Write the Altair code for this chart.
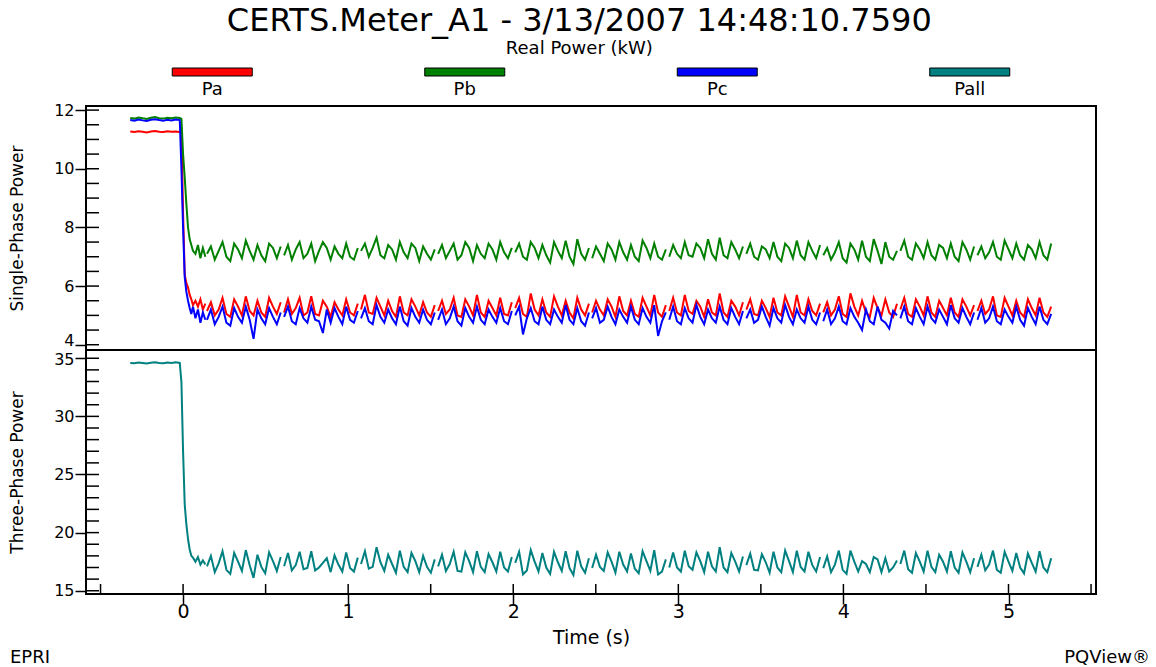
import altair as alt
import pandas as pd

FONT = "DejaVu Sans"

series_names = ["Pa", "Pb", "Pc", "Pall"]
series_colors = ["#ff0000", "#008000", "#0000ff", "#008080"]

# first block (pre-step and drop), times in s
t_step = [-0.32, -0.295, -0.27, -0.245, -0.22, -0.195, -0.17, -0.145, -0.12, -0.095, -0.07, -0.045, -0.02,
          -0.01, 0.0, 0.01, 0.02, 0.03, 0.04, 0.05, 0.06, 0.075, 0.09, 0.105, 0.12, 0.135]
# later data blocks (each block = 20 samples, small gap between blocks)
block_starts = [0.145, 0.612, 1.078, 1.545, 2.012, 2.478, 2.945, 3.412, 3.878, 4.345, 4.812]
sample_step = 0.0235

pa_step = [11.27, 11.25, 11.28, 11.26, 11.24, 11.27, 11.29, 11.26, 11.25, 11.28, 11.26, 11.27, 11.25,
           11.25, 8.5, 6.4, 6.1, 5.95, 5.7, 5.55, 5.35, 5.5, 5.3, 5.55, 5.2, 5.4]
pb_step = [11.73, 11.71, 11.75, 11.72, 11.70, 11.74, 11.76, 11.72, 11.71, 11.74, 11.72, 11.75, 11.73,
           11.7, 10.5, 9.7, 8.8, 8.0, 7.6, 7.4, 7.2, 7.1, 7.4, 6.95, 7.3, 7.0]
pc_step = [11.66, 11.64, 11.68, 11.65, 11.63, 11.67, 11.69, 11.66, 11.64, 11.67, 11.65, 11.68, 11.66,
           10.0, 8.0, 6.3, 5.8, 5.5, 5.25, 5.05, 5.3, 4.9, 5.2, 4.75, 5.1, 4.85]
pall_step = [34.6, 34.58, 34.63, 34.6, 34.55, 34.62, 34.66, 34.6, 34.57, 34.63, 34.6, 34.65, 34.6,
             32.95, 27.0, 22.4, 20.7, 19.45, 18.55, 18.0, 17.85, 17.5, 17.9, 17.25, 17.6, 17.25]

pb_blocks = [
    [7.1, 7.35, 6.9, 7.2, 7.5, 7.0, 6.85, 7.45, 7.25, 6.95, 7.55, 7.2, 6.9, 7.4, 7.05, 6.85, 7.45, 7.3, 6.95, 7.35],
    [7.05, 7.4, 6.9, 7.25, 7.5, 6.95, 7.1, 7.45, 6.85, 7.2, 7.5, 7.3, 6.9, 7.35, 7.1, 6.95, 7.45, 7.0, 6.9, 7.3],
    [7.2, 7.45, 7.0, 7.3, 7.65, 7.05, 6.95, 7.4, 7.25, 6.9, 7.5, 7.15, 6.95, 7.45, 7.3, 6.85, 7.35, 7.1, 6.9, 7.25],
    [7.1, 7.4, 6.95, 7.2, 7.45, 6.9, 7.05, 7.5, 7.3, 6.85, 7.4, 7.1, 6.95, 7.45, 7.25, 6.9, 7.5, 7.15, 6.95, 7.3],
    [7.15, 7.45, 7.0, 6.9, 7.5, 7.3, 6.95, 7.4, 7.05, 6.8, 7.5, 7.2, 6.95, 7.55, 7.0, 6.75, 7.6, 7.1, 6.9, 7.3],
    [6.95, 7.35, 7.1, 6.85, 7.45, 7.25, 6.9, 7.5, 7.15, 6.9, 7.4, 7.0, 6.85, 7.55, 7.3, 6.95, 7.45, 7.0, 6.9, 7.25],
    [7.0, 7.4, 7.1, 6.95, 7.5, 7.05, 7.0, 7.45, 7.3, 6.95, 7.6, 7.1, 6.9, 7.65, 7.05, 6.95, 7.5, 7.25, 6.95, 7.35],
    [7.1, 7.45, 7.0, 6.9, 7.35, 7.25, 6.95, 7.5, 7.0, 6.85, 7.45, 7.3, 6.95, 7.55, 7.05, 6.9, 7.5, 7.2, 6.95, 7.4],
    [7.05, 7.3, 6.9, 7.15, 7.5, 6.95, 6.8, 7.45, 7.25, 6.9, 7.55, 7.0, 6.85, 7.6, 7.2, 6.75, 7.5, 7.0, 6.9, 7.2],
    [7.2, 7.55, 7.0, 6.9, 7.45, 7.25, 6.95, 7.5, 7.05, 6.9, 7.4, 7.3, 6.95, 7.45, 7.0, 6.85, 7.5, 7.25, 6.9, 7.35],
    [7.05, 7.35, 6.95, 7.15, 7.5, 7.0, 6.9, 7.55, 7.25, 6.95, 7.45, 7.05, 6.9, 7.4, 7.25, 6.95, 7.5, 7.05, 6.9, 7.45],
]
pa_blocks = [
    [5.15, 5.45, 5.0, 5.2, 5.6, 5.05, 4.95, 5.55, 5.3, 5.0, 5.65, 5.15, 5.0, 5.5, 5.1, 4.95, 5.6, 5.3, 5.05, 5.45],
    [5.1, 5.55, 5.05, 5.25, 5.6, 5.0, 5.1, 5.65, 5.05, 5.0, 5.5, 5.3, 4.95, 5.45, 5.2, 5.0, 5.55, 5.1, 5.0, 5.4],
    [5.2, 5.7, 5.1, 5.05, 5.6, 5.3, 5.0, 5.5, 5.15, 4.95, 5.65, 5.1, 5.0, 5.55, 5.3, 5.0, 5.45, 5.1, 4.95, 5.35],
    [5.15, 5.5, 5.05, 5.2, 5.6, 5.0, 4.95, 5.55, 5.3, 5.0, 5.7, 5.1, 4.95, 5.5, 5.25, 5.0, 5.6, 5.05, 5.0, 5.45],
    [5.25, 5.6, 5.05, 4.95, 5.75, 5.2, 5.0, 5.55, 5.1, 4.95, 5.65, 5.3, 5.0, 5.5, 5.1, 4.9, 5.6, 5.2, 5.0, 5.4],
    [5.1, 5.5, 5.2, 5.0, 5.55, 5.3, 4.95, 5.65, 5.15, 5.0, 5.5, 5.05, 4.95, 5.6, 5.3, 5.0, 5.7, 5.1, 4.95, 5.35],
    [5.15, 5.6, 5.1, 5.0, 5.7, 5.15, 5.05, 5.5, 5.3, 4.95, 5.55, 5.1, 5.0, 5.75, 5.1, 4.95, 5.5, 5.3, 5.0, 5.45],
    [5.2, 5.55, 5.05, 5.0, 5.5, 5.25, 4.95, 5.6, 5.1, 5.0, 5.65, 5.3, 4.95, 5.7, 5.1, 5.0, 5.55, 5.15, 5.0, 5.4],
    [5.1, 5.45, 5.0, 5.2, 5.65, 5.05, 4.95, 5.75, 5.3, 5.0, 5.5, 5.1, 4.95, 5.6, 5.25, 5.0, 5.55, 5.1, 4.95, 5.4],
    [5.2, 5.6, 5.05, 4.95, 5.55, 5.3, 5.0, 5.65, 5.1, 4.95, 5.5, 5.25, 5.0, 5.6, 5.1, 4.95, 5.55, 5.3, 5.0, 5.35],
    [5.15, 5.5, 5.05, 5.2, 5.65, 5.0, 4.95, 5.6, 5.3, 5.0, 5.5, 5.1, 4.95, 5.55, 5.25, 5.0, 5.6, 5.1, 4.95, 5.3],
]
pc_blocks = [
    [4.85, 5.2, 4.7, 4.95, 5.3, 4.75, 4.65, 5.25, 4.95, 4.75, 5.3, 4.85, 4.2, 5.2, 4.9, 4.7, 5.25, 4.95, 4.7, 5.1],
    [4.95, 5.3, 4.8, 4.7, 5.25, 4.9, 4.75, 5.3, 4.85, 4.8, 4.4, 5.2, 4.75, 5.25, 4.95, 4.7, 5.3, 4.85, 4.75, 5.15],
    [4.9, 5.25, 4.8, 4.7, 5.35, 4.95, 4.75, 5.2, 4.9, 4.7, 5.3, 4.8, 4.65, 5.25, 4.95, 4.75, 5.2, 4.85, 4.7, 5.1],
    [4.85, 5.2, 4.7, 4.9, 5.3, 4.8, 4.65, 5.25, 4.95, 4.75, 5.3, 4.85, 4.7, 5.2, 4.95, 4.75, 5.25, 4.8, 4.7, 5.15],
    [5.0, 5.3, 4.35, 4.9, 5.25, 4.8, 4.7, 5.3, 4.85, 4.7, 5.2, 4.95, 4.75, 5.35, 4.85, 4.7, 5.25, 4.8, 4.65, 5.1],
    [4.9, 5.25, 4.75, 4.85, 5.3, 4.95, 4.7, 5.2, 4.95, 4.75, 5.3, 4.85, 4.7, 5.25, 4.95, 4.75, 5.35, 4.3, 4.8, 5.1],
    [4.85, 5.3, 4.8, 4.7, 5.25, 4.9, 4.75, 5.35, 4.95, 4.7, 5.2, 4.9, 4.75, 5.3, 4.85, 4.7, 5.25, 4.95, 4.7, 5.15],
    [4.9, 5.2, 4.75, 4.85, 5.3, 4.95, 4.65, 5.25, 4.9, 4.75, 5.35, 4.95, 4.7, 5.2, 4.9, 4.75, 5.3, 4.85, 4.7, 5.1],
    [4.8, 5.2, 4.7, 4.9, 5.3, 4.8, 4.7, 5.25, 4.95, 4.75, 4.5, 5.2, 4.8, 4.7, 5.3, 4.85, 4.75, 4.55, 5.15, 5.0],
    [4.9, 5.3, 4.8, 4.7, 5.25, 4.95, 4.7, 5.3, 4.9, 4.75, 5.2, 4.95, 4.7, 5.35, 4.9, 4.75, 5.25, 4.95, 4.7, 5.1],
    [4.85, 5.25, 4.75, 4.9, 5.3, 4.8, 4.7, 5.2, 4.95, 4.75, 5.3, 4.85, 4.65, 5.25, 4.95, 4.7, 5.3, 4.85, 4.7, 5.05],
]
pall_blocks = [
    [17.1, 18.0, 16.6, 17.35, 18.4, 16.8, 16.45, 18.25, 17.5, 16.7, 18.5, 17.2, 16.1, 18.1, 17.05, 16.5, 18.3, 17.55, 16.7, 17.9],
    [17.1, 18.25, 16.75, 17.2, 18.35, 16.85, 16.95, 18.4, 16.75, 17.0, 17.4, 17.8, 16.6, 18.05, 17.25, 16.65, 18.3, 16.95, 16.65, 17.85],
    [17.3, 18.4, 16.9, 17.05, 18.75, 17.45, 16.7, 18.1, 17.3, 16.55, 18.45, 17.05, 16.6, 18.25, 17.55, 16.6, 18.0, 17.05, 16.55, 17.7],
    [17.1, 18.1, 16.7, 17.3, 18.35, 16.7, 16.65, 18.3, 17.55, 16.6, 18.4, 17.05, 16.6, 18.15, 17.45, 16.65, 18.35, 17.0, 16.65, 17.9],
    [17.4, 18.35, 16.4, 16.75, 18.5, 17.5, 16.65, 18.25, 17.0, 16.45, 18.35, 17.45, 16.7, 18.4, 16.95, 16.35, 18.45, 17.1, 16.55, 17.8],
    [16.95, 18.1, 17.05, 16.7, 18.3, 17.5, 16.55, 18.35, 17.25, 16.65, 18.2, 16.9, 16.5, 18.4, 17.55, 16.7, 18.5, 16.4, 16.65, 17.7],
    [17.0, 18.3, 17.0, 16.65, 18.45, 17.1, 16.8, 18.3, 17.55, 16.6, 18.35, 17.1, 16.65, 18.75, 17.0, 16.6, 18.25, 17.5, 16.65, 17.95],
    [17.2, 18.2, 16.8, 16.75, 18.15, 17.45, 16.55, 18.35, 17.0, 16.6, 18.45, 17.55, 16.6, 18.45, 17.05, 16.65, 18.35, 17.2, 16.65, 17.9],
    [16.95, 17.95, 16.6, 17.25, 18.45, 16.8, 16.45, 18.45, 17.5, 16.65, 17.55, 17.3, 16.6, 17.9, 17.7, 16.6, 17.8, 16.65, 17.0, 17.6],
    [17.3, 18.45, 16.85, 16.55, 18.25, 17.5, 16.65, 18.45, 17.05, 16.6, 18.1, 17.5, 16.65, 18.4, 17.0, 16.55, 18.3, 17.5, 16.6, 17.8],
    [17.05, 18.1, 16.75, 17.25, 18.45, 16.8, 16.55, 18.35, 17.5, 16.7, 18.25, 17.0, 16.5, 18.2, 17.4, 16.65, 18.4, 17.0, 16.6, 17.8],
]

x_ticks = [0, 1, 2, 3, 4, 5]
x_minor = [-0.5, 0, 0.5, 1, 1.5, 2, 2.5, 3, 3.5, 4, 4.5, 5, 5.5]
top_ticks = [4, 6, 8, 10, 12]
top_minor = [4, 4.5, 5, 5.5, 6, 6.5, 7, 7.5, 8, 8.5, 9, 9.5, 10, 10.5, 11, 11.5, 12]
bot_ticks = [15, 20, 25, 30, 35]
bot_minor = list(range(15, 36))


def build(series, step_vals, blocks):
    rows = []
    for t, v in zip(t_step, step_vals):
        rows.append({"series": series, "seg": 0, "t": t, "v": v})
    for b, (start, vals) in enumerate(zip(block_starts, blocks), start=1):
        for k, v in enumerate(vals):
            rows.append({"series": series, "seg": b, "t": round(start + k * sample_step, 4), "v": v})
    return rows


top_df = pd.DataFrame(build("Pa", pa_step, pa_blocks) + build("Pb", pb_step, pb_blocks)
                      + build("Pc", pc_step, pc_blocks))
bot_df = pd.DataFrame(build("Pall", pall_step, pall_blocks))

W = 1010
H = 244
color_scale = alt.Scale(domain=series_names, range=series_colors)
x_scale = alt.Scale(domain=[-0.588, 5.53], nice=False, zero=False)
top_y = alt.Scale(domain=[3.82, 12.14], nice=False, zero=False)
bot_y = alt.Scale(domain=[14.72, 35.71], nice=False, zero=False)
box = alt.ViewBackground(stroke="black", strokeWidth=2)


def y_axis(values, title, offset):
    return alt.Axis(values=values, title=title, tickSize=11, tickWidth=1.5, tickColor="black",
                    labelFontSize=16, labelFont=FONT, labelColor="black", labelPadding=1,
                    labelOffset=offset,
                    labelFlush=False, labelOverlap=False, titleFont=FONT, titleFontSize=17,
                    titleFontWeight="normal", titleColor="black", titlePadding=27,
                    domain=False, grid=False)


x_axis = alt.Axis(values=x_ticks, format="d", title="Time (s)", tickSize=10, tickWidth=1.5,
                  tickColor="black", labelFontSize=19, labelFont=FONT, labelColor="black",
                  labelPadding=-2, labelFlush=False, titleFont=FONT, titleFontSize=19,
                  titleFontWeight="normal", titleColor="black", titlePadding=7,
                  domain=False, grid=False)

top_axis = y_axis(top_ticks, "Single-Phase Power",
                  {"condition": {"test": "datum.value == 4", "value": -4}, "value": 0})
bot_axis = y_axis(bot_ticks, "Three-Phase Power",
                  {"condition": {"test": "datum.value == 35", "value": 1}, "value": 0})

top_lines = alt.Chart(top_df).mark_line(strokeWidth=2).encode(
    x=alt.X("t:Q", scale=x_scale, axis=None),
    y=alt.Y("v:Q", scale=top_y, axis=top_axis),
    color=alt.Color("series:N", scale=color_scale, legend=None),
    detail="seg:N",
)
top_inner = alt.Chart(pd.DataFrame({"v": top_minor})).mark_rule(color="black", strokeWidth=1.5).encode(
    y=alt.Y("v:Q", scale=top_y, axis=top_axis),
    x=alt.value(0), x2=alt.value(13),
)
top = alt.layer(top_lines, top_inner).properties(width=W, height=H, view=box)

bot_lines = alt.Chart(bot_df).mark_line(strokeWidth=2).encode(
    x=alt.X("t:Q", scale=x_scale, axis=x_axis),
    y=alt.Y("v:Q", scale=bot_y, axis=bot_axis),
    color=alt.Color("series:N", scale=color_scale, legend=None),
    detail="seg:N",
)
bot_inner_y = alt.Chart(pd.DataFrame({"v": bot_minor})).mark_rule(color="black", strokeWidth=1.5).encode(
    y=alt.Y("v:Q", scale=bot_y, axis=bot_axis),
    x=alt.value(0), x2=alt.value(13),
)
bot_inner_x = alt.Chart(pd.DataFrame({"t": x_minor})).mark_rule(color="black", strokeWidth=1.5).encode(
    x=alt.X("t:Q", scale=x_scale, axis=x_axis),
    y=alt.value(H), y2=alt.value(H - 10),
)
corner = pd.DataFrame({"label": ["EPRI", "PQView®"]})
epri = alt.Chart(corner).transform_filter(alt.datum.label == "EPRI").mark_text(
    align="left", baseline="middle", fontSize=18, font=FONT, color="black").encode(
    text="label:N", x=alt.value(-76), y=alt.value(H + 64))
pqv = alt.Chart(corner).transform_filter(alt.datum.label == "PQView®").mark_text(
    align="right", baseline="middle", fontSize=18, font=FONT, color="black").encode(
    text="label:N", x=alt.value(W + 54), y=alt.value(H + 64))
bottom = alt.layer(bot_lines, bot_inner_y, bot_inner_x, epri, pqv).properties(width=W, height=H, view=box)

leg_df = pd.DataFrame({"series": series_names})
leg_x = alt.X("series:N", scale=alt.Scale(domain=series_names, paddingInner=0, paddingOuter=0), axis=None)
leg_sw = alt.Chart(leg_df).mark_bar(width=80, stroke="black", strokeWidth=1).encode(
    x=leg_x, y=alt.value(3), y2=alt.value(11),
    color=alt.Color("series:N", scale=color_scale, legend=None),
)
leg_tx = alt.Chart(leg_df).mark_text(fontSize=18, font=FONT, color="black", baseline="middle").encode(
    x=leg_x, y=alt.value(25), text="series:N",
)
legend = alt.layer(leg_sw, leg_tx).properties(width=W, height=41, view=alt.ViewBackground(strokeWidth=0))

chart = alt.vconcat(legend, top, bottom, spacing=0, bounds="flush").properties(
    title=alt.TitleParams(
        text="CERTS.Meter_A1 - 3/13/2007 14:48:10.7590",
        subtitle="Real Power (kW)",
        anchor="middle", frame="bounds",
        font=FONT, fontSize=32, fontWeight="normal", color="black",
        subtitleFont=FONT, subtitleFontSize=18, subtitleColor="black",
        subtitlePadding=2, offset=6,
    ),
    padding={"left": 7, "top": 5, "right": 5, "bottom": 5},
).configure(background="white")

chart.save("out.html", embed_options={"renderer": "svg", "actions": False})
